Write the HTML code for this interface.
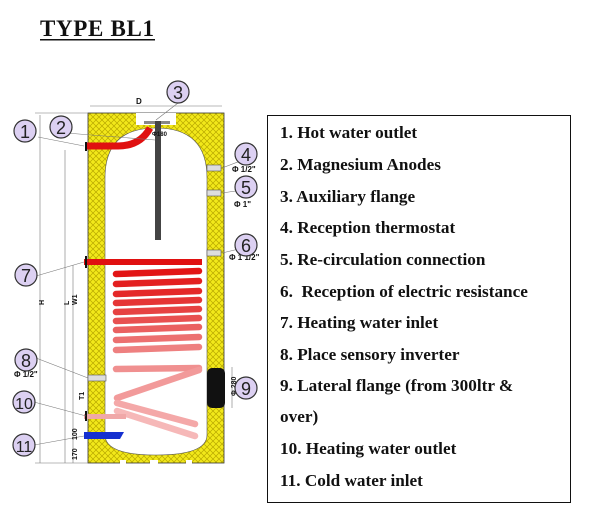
<!DOCTYPE html>
<html><head><meta charset="utf-8"><style>
html,body{margin:0;padding:0;background:#fff;width:610px;height:526px;overflow:hidden}
svg{display:block}
.t{font-family:"Liberation Serif",serif;font-weight:bold;font-size:17.2px;fill:#111}
.n{font-family:"Liberation Sans",sans-serif;font-size:18px;fill:#222;text-anchor:middle}
.s{font-family:"Liberation Sans",sans-serif;font-weight:bold;font-size:8px;fill:#111}
</style></head><body>
<svg width="610" height="526" viewBox="0 0 610 526">
<defs>
<pattern id="hx" width="6" height="6" patternUnits="userSpaceOnUse">
<rect width="6" height="6" fill="#f2e81a"/>
<path d="M0 0L6 6M6 0L0 6" stroke="#b8a800" stroke-width="0.7"/>
</pattern>
</defs>
<text x="40" y="36" textLength="114" style="font-family:'Liberation Serif',serif;font-weight:bold;font-size:23px;fill:#111">TYPE BL1</text>
<rect x="40" y="39" width="115" height="1.5" fill="#111"/>

<rect x="88" y="113" width="136" height="350" fill="url(#hx)" stroke="#333" stroke-width="0.8"/>
<path d="M105 178 Q105 128 156 128 Q207 128 207 178 L207 435 Q207 455 156 455 Q105 455 105 435 Z" fill="#fff" stroke="#555" stroke-width="0.6"/>
<rect x="136" y="113" width="40" height="12" fill="#fff"/>
<rect x="120" y="460" width="6" height="4" fill="#fff"/>
<rect x="150" y="460" width="8" height="4" fill="#fff"/>
<rect x="186" y="460" width="6" height="4" fill="#fff"/>
<rect x="144" y="121" width="26" height="3" fill="#888"/>
<rect x="155" y="121" width="6" height="119" fill="#444"/>
<path d="M86 146 L118 146 Q140 146 150 128" fill="none" stroke="#e01010" stroke-width="7"/>
<rect x="85" y="142" width="2" height="9" fill="#111"/>
<rect x="207" y="165" width="14" height="6" fill="#ddd" stroke="#555" stroke-width="0.6"/>
<rect x="207" y="190" width="14" height="6" fill="#ddd" stroke="#555" stroke-width="0.6"/>
<rect x="207" y="250" width="14" height="6" fill="#ddd" stroke="#555" stroke-width="0.6"/>
<rect x="84" y="259" width="118" height="6" fill="#e01010"/>
<rect x="85" y="256" width="2" height="12" fill="#111"/>
<g stroke-width="6.5" stroke-linecap="round" fill="none">
<path d="M116 274 L199 271" stroke="#e21515"/>
<path d="M116 284 L199 281" stroke="#e32020"/>
<path d="M116 294 L199 291" stroke="#e42828"/>
<path d="M116 303 L199 300" stroke="#e53535"/>
<path d="M116 312 L199 309" stroke="#e64242"/>
<path d="M116 321 L199 318" stroke="#e85050"/>
<path d="M116 330 L199 327" stroke="#ea6060"/>
<path d="M116 340 L199 337" stroke="#ec7070"/>
<path d="M116 350 L199 347" stroke="#ee8080"/>
<path d="M116 369 L199 368" stroke="#f09090"/>
<path d="M199 370 L117 398" stroke="#f29a9a"/>
<path d="M117 403 L195 424" stroke="#f4a8a8"/>
<path d="M117 411 L195 436" stroke="#f6b8b8"/>
</g>
<rect x="84" y="414" width="42" height="5" fill="#f0a8a8"/>
<rect x="85" y="411" width="2" height="10" fill="#111"/>
<rect x="88" y="375" width="18" height="6" fill="#ddd" stroke="#555" stroke-width="0.6"/>
<path d="M84 432 L124 432 L120 439 L84 439Z" fill="#1530d0"/>
<rect x="207" y="368" width="18" height="40" rx="5" fill="#111"/>
<g stroke="#777" stroke-width="0.6" fill="none">
<path d="M90 106 L222 106"/>
<path d="M40 115 L40 463 M65 150 L65 463 M73 265 L73 463"/>
<path d="M35 113 L88 113 M35 463 L88 463"/>
<path d="M232 367 L232 408"/>
<path d="M38 137 L84 146 M66 133 L155 140 M178 103 L156 120 M256 155 L222 168 M256 188 L222 193 M256 245 L222 253 M36 276 L84 262 M36 358 L88 378 M34 402 L86 416 M34 445 L84 436"/>
</g>
<text x="136" y="104" class="s">D</text>
<text x="152" y="136" class="s" style="font-size:6px">Φ180</text>
<g class="s" style="font-size:8px">
<text x="232" y="172">Φ 1/2"</text>
<text x="234" y="207">Φ 1"</text>
<text x="229" y="260">Φ 1 1/2"</text>
<text x="14" y="377">Φ 1/2"</text>
</g>
<g class="s" style="font-size:7px">
<text transform="translate(44,305) rotate(-90)">H</text>
<text transform="translate(69,305) rotate(-90)">L</text>
<text transform="translate(77,305) rotate(-90)">W1</text>
<text transform="translate(84,400) rotate(-90)">T1</text>
<text transform="translate(77,440) rotate(-90)">100</text>
<text transform="translate(77,460) rotate(-90)">170</text>
<text transform="translate(236,396) rotate(-90)">Φ 280</text>
</g>
<g fill="#dcd0f2" stroke="#333" stroke-width="1.2">
<circle cx="25" cy="131" r="11"/><circle cx="61" cy="127" r="11"/><circle cx="178" cy="92" r="11"/>
<circle cx="246" cy="154" r="11"/><circle cx="246" cy="187" r="11"/><circle cx="246" cy="245" r="11"/>
<circle cx="26" cy="275" r="11"/><circle cx="26" cy="360" r="11"/><circle cx="246" cy="388" r="11"/>
<circle cx="24" cy="402" r="11"/><circle cx="24" cy="445" r="11"/>
</g>
<g class="n">
<text x="25" y="138">1</text><text x="61" y="134">2</text><text x="178" y="99">3</text>
<text x="246" y="161">4</text><text x="246" y="194">5</text><text x="246" y="252">6</text>
<text x="26" y="282">7</text><text x="26" y="367">8</text><text x="246" y="395">9</text>
<text x="24" y="409" style="font-size:16px">10</text><text x="24" y="452" style="font-size:16px">11</text>
</g>
<rect x="267.5" y="115.5" width="303" height="387" fill="none" stroke="#111" stroke-width="1"/>
<g class="t">
<text x="280" y="138">1. Hot water outlet</text>
<text x="280" y="170">2. Magnesium Anodes</text>
<text x="280" y="202">3. Auxiliary flange</text>
<text x="280" y="233">4. Reception thermostat</text>
<text x="280" y="265">5. Re-circulation connection</text>
<text x="280" y="297">6.&#160; Reception of electric resistance</text>
<text x="280" y="328">7. Heating water inlet</text>
<text x="280" y="360">8. Place sensory inverter</text>
<text x="280" y="391">9. Lateral flange (from 300ltr &amp;</text>
<text x="280" y="422">over)</text>
<text x="280" y="454">10. Heating water outlet</text>
<text x="280" y="486">11. Cold water inlet</text>
</g>
</svg>
</body></html>
